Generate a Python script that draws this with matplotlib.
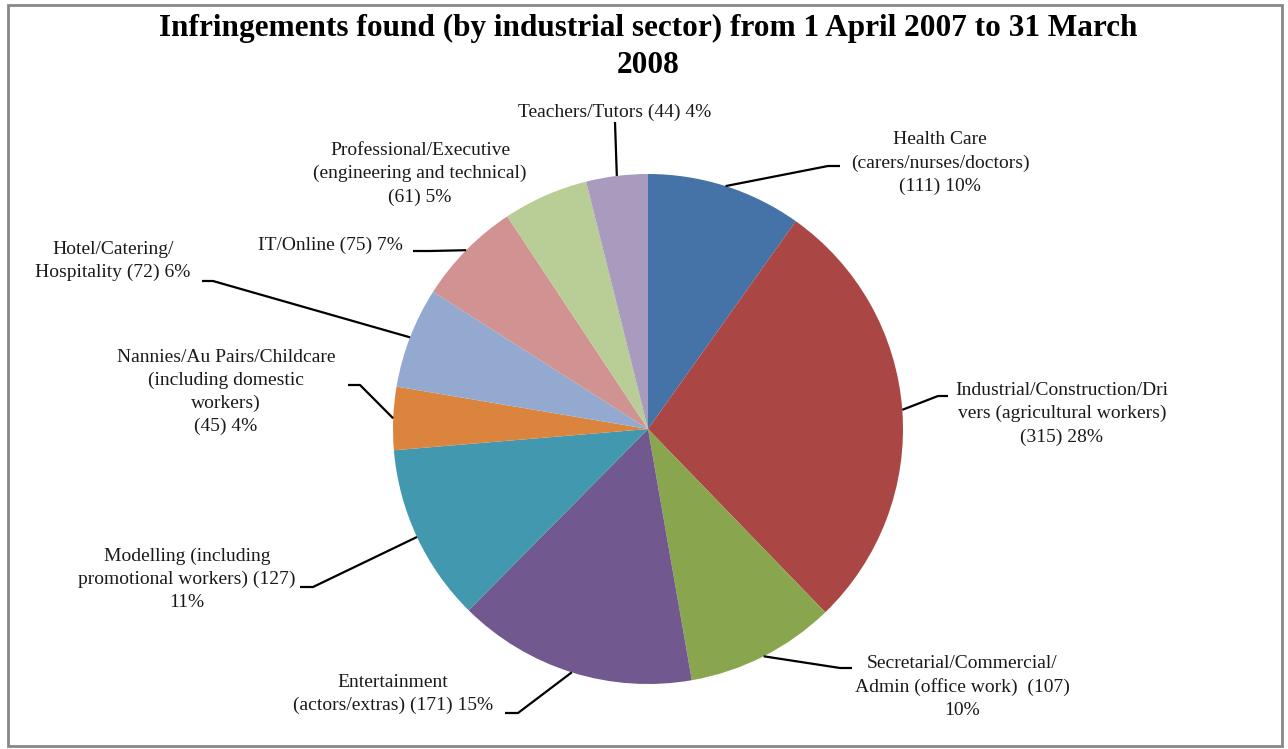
import numpy as np
import matplotlib.pyplot as plt
from matplotlib.patches import Rectangle

W, H = 1288, 749

sectors = ['Health Care', 'Industrial/Construction/Drivers', 'Secretarial/Commercial',
           'Entertainment', 'Modelling', 'Nannies/Au Pairs/Childcare',
           'Hotel/Catering/Hospitality', 'IT/Online', 'Professional/Executive',
           'Teachers/Tutors']
counts = [111, 315, 107, 171, 127, 45, 72, 75, 61, 44]
percents = [10, 28, 10, 15, 11, 4, 6, 7, 5, 4]
colors = ['#4572A7', '#AA4643', '#89A54E', '#71588F', '#4198AF',
          '#DB843D', '#93A9CF', '#D19392', '#B9CD96', '#A99BBD']

# label text as wrapped in the chart, {n} = count, {p} = percent
label_fmt = ['Health Care\n(carers/nurses/doctors)\n({n}) {p}%',
             'Industrial/Construction/Dri\nvers (agricultural workers)\n({n}) {p}%',
             'Secretarial/Commercial/\nAdmin (office work)  ({n})\n{p}%',
             'Entertainment\n(actors/extras) ({n}) {p}%',
             'Modelling (including\npromotional workers) ({n})\n{p}%',
             'Nannies/Au Pairs/Childcare\n(including domestic\nworkers)\n({n}) {p}%',
             'Hotel/Catering/\nHospitality ({n}) {p}%',
             'IT/Online ({n}) {p}%',
             'Professional/Executive\n(engineering and technical)\n({n}) {p}%',
             'Teachers/Tutors ({n}) {p}%']

# label block centres and leader line elbows, in pixels from the top left
label_xy = [(940, 163), (1062, 414), (962, 687), (393, 694), (187, 579),
            (226, 392), (113, 261), (330, 245), (420, 174), (615, 112)]
leader_elbow = [(828, 166), (938, 396), (840, 668), (518, 713), (313, 587),
                (360, 385), (213, 281), (430, 251), None, (615, 122)]
leader_tail = [(840, 166), (948, 396), (852, 668), (505, 713), (300, 587),
               (348, 385), (202, 281), (413, 251), None, (615, 122)]

plt.rcParams['font.family'] = ['Liberation Serif', 'DejaVu Serif']

fig = plt.figure(figsize=(W / 100, H / 100), dpi=100)
ax = fig.add_axes([0, 0, 1, 1])

cx, cy, r = 648, H - 429, 255
wedges, _ = ax.pie(counts, colors=colors, startangle=90, counterclock=False,
                   center=(cx, cy), radius=r, wedgeprops=dict(linewidth=0))

ax.set_xlim(0, W)
ax.set_ylim(0, H)
ax.set_aspect('equal')
ax.axis('off')

for i, w in enumerate(wedges):
    text = label_fmt[i].format(n=counts[i], p=percents[i])
    lx, ly = label_xy[i]
    ax.text(lx, H - ly, text, ha='center', va='center', fontsize=14,
            linespacing=1.45, color='#1a1a1a')

    if leader_elbow[i] is None:
        continue
    mid = np.deg2rad((w.theta1 + w.theta2) / 2)
    px, py = cx + r * np.cos(mid), cy + r * np.sin(mid)
    ex, ey = leader_elbow[i]
    tx, ty = leader_tail[i]
    ax.plot([px, ex, tx], [py, H - ey, H - ty], color='black', lw=1.6,
            solid_capstyle='butt')

fig.text(648 / W, 1 - 47 / H,
         'Infringements found (by industrial sector) from 1 April 2007 to 31 March\n2008',
         ha='center', va='center', fontsize=22.5, fontweight='bold',
         linespacing=1.4)

fig.patches.append(Rectangle((8 / W, 3 / H), 1274 / W, 741 / H,
                             transform=fig.transFigure, fill=False,
                             edgecolor='#888888', lw=2))

fig.savefig('out.png', dpi=100, facecolor='white')
